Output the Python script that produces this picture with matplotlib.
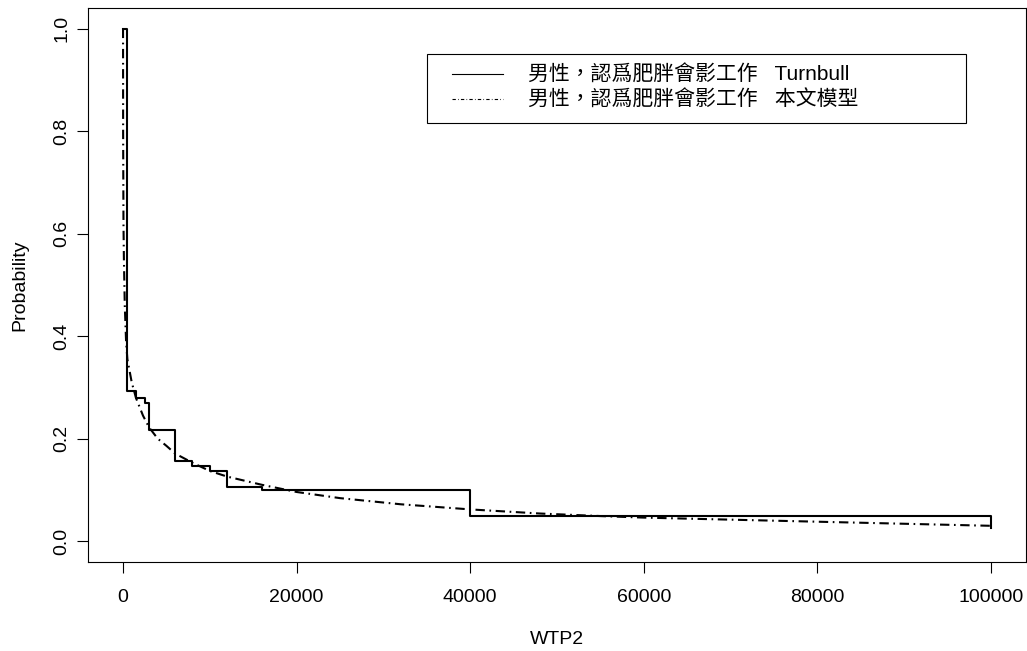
import matplotlib
matplotlib.use('Agg')
import matplotlib.pyplot as plt
from matplotlib.patches import Rectangle

plt.rcParams['font.family'] = ['Liberation Sans', 'Noto Sans CJK TC', 'DejaVu Sans']

# Turnbull step estimate (survival probability)
turnbull_wtp = [0, 500, 1500, 2500, 3000, 6000, 8000, 10000, 12000, 16000, 40000, 100000]
turnbull_prob = [1.0, 0.293, 0.279, 0.270, 0.217, 0.157, 0.147, 0.136, 0.105, 0.100, 0.049, 0.025]

# fitted model curve
model_wtp = [0, 10, 50, 100, 200, 350, 500, 1000, 1500, 2300, 3000, 4000, 5000, 6000,
             8000, 10000, 12000, 16000, 20000, 25000, 32000, 40000, 48000, 55000,
             60000, 70000, 80000, 90000, 100000]
model_prob = [1.0, 0.80, 0.62, 0.55, 0.46, 0.39, 0.355, 0.31, 0.279, 0.245, 0.222, 0.200,
              0.186, 0.171, 0.153, 0.137, 0.126, 0.110, 0.096, 0.084, 0.072, 0.062, 0.054,
              0.049, 0.046, 0.042, 0.038, 0.034, 0.030]

labels = ['男性，認爲肥胖會影工作   Turnbull', '男性，認爲肥胖會影工作   本文模型']
dashdot = (0, (4.5, 2.2, 0.8, 2.2))

fig = plt.figure(figsize=(10.27, 6.51), dpi=100)
ax = fig.add_axes([0.086, 0.1372, 0.9128, 0.8502])

ax.plot(turnbull_wtp, turnbull_prob, color='black', lw=1.5, drawstyle='steps-post')
ax.plot(model_wtp, model_prob, color='black', lw=1.5, linestyle=dashdot)

ax.set_xlim(-4000, 104000)
ax.set_ylim(-0.04, 1.04)
ax.set_xticks([0, 20000, 40000, 60000, 80000, 100000])
ax.set_yticks([0.0, 0.2, 0.4, 0.6, 0.8, 1.0])
ax.set_yticklabels(['0.0', '0.2', '0.4', '0.6', '0.8', '1.0'], rotation=90, va='center')
ax.tick_params(direction='out', length=8, width=0.8, labelsize=14)
ax.tick_params(axis='x', pad=12)
ax.tick_params(axis='y', pad=5)
for s in ax.spines.values():
    s.set_linewidth(0.8)

ax.set_xlabel('WTP2', fontsize=14, labelpad=18)
ax.set_ylabel('Probability', fontsize=14, labelpad=18)

# legend drawn by hand, R style
ax.add_patch(Rectangle((0.361, 0.7931), 0.575, 0.1242, transform=ax.transAxes,
                       facecolor='white', edgecolor='black', lw=0.8, zorder=5))
ax.plot([0.3877, 0.4421], [0.8806, 0.8806], transform=ax.transAxes,
        color='black', lw=0.8, zorder=6)
ax.plot([0.3877, 0.4421], [0.8354, 0.8354], transform=ax.transAxes,
        color='black', lw=0.8, linestyle=(0, (3, 2, 0.6, 2)), zorder=6)
for lab, yy in zip(labels, [0.8806, 0.8354]):
    ax.text(0.4694, yy, lab, transform=ax.transAxes, fontsize=15,
            ha='left', va='center', zorder=6)

plt.savefig('out.png', dpi=100)
